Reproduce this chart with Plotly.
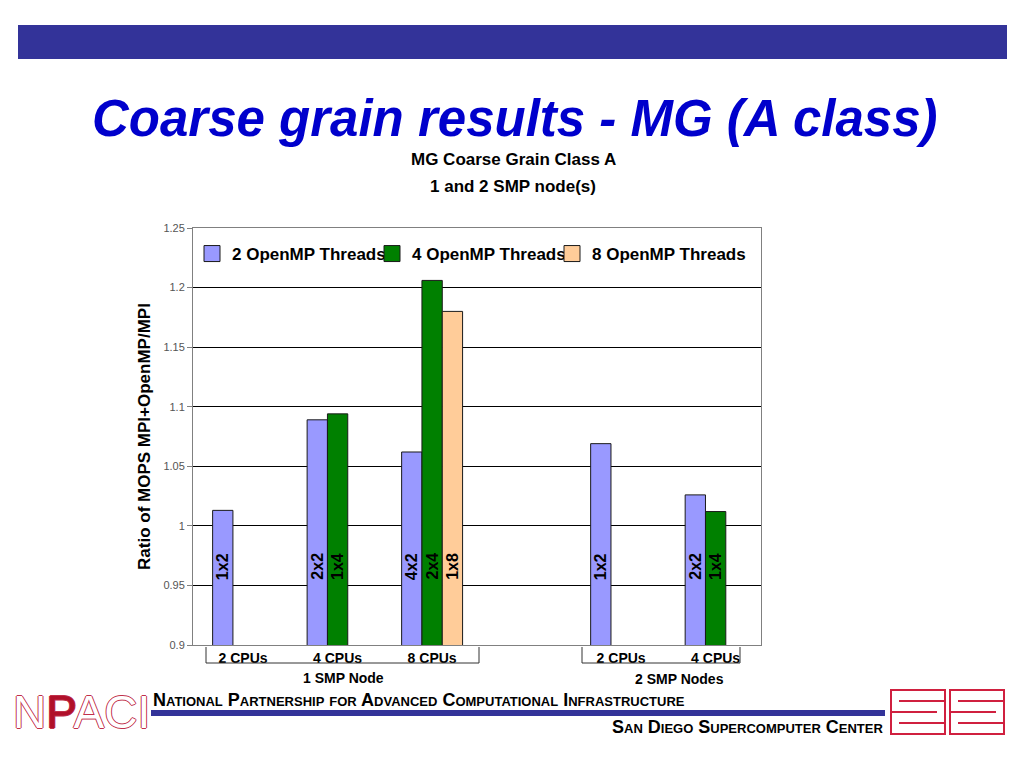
import plotly.graph_objects as go

# ---------------- data ----------------
slots = ["1 node / 2 CPUs", "1 node / 4 CPUs", "1 node / 8 CPUs", None,
         "2 nodes / 2 CPUs", "2 nodes / 4 CPUs"]
tick_labels = ["2 CPUs", "4 CPUs", "8 CPUs", "", "2 CPUs", "4 CPUs"]
group_labels = ["1 SMP Node", "2 SMP Nodes"]

series_names = ["2 OpenMP Threads", "4 OpenMP Threads", "8 OpenMP Threads"]
thr2_slots = ["1 node / 2 CPUs", "1 node / 4 CPUs", "1 node / 8 CPUs",
              "2 nodes / 2 CPUs", "2 nodes / 4 CPUs"]
thr2_vals = [1.013, 1.089, 1.062, 1.069, 1.026]
thr2_cfg = ["1x2", "2x2", "4x2", "1x2", "2x2"]

thr4_slots = ["1 node / 4 CPUs", "1 node / 8 CPUs", "2 nodes / 4 CPUs"]
thr4_vals = [1.094, 1.206, 1.012]
thr4_cfg = ["1x4", "2x4", "1x4"]

thr8_slots = ["1 node / 8 CPUs"]
thr8_vals = [1.180]
thr8_cfg = ["1x8"]

y_ticks = [0.9, 0.95, 1.0, 1.05, 1.1, 1.15, 1.2, 1.25]

# ---------------- layout constants (screen pixels) ----------------
FONT = "Liberation Sans, Arial, sans-serif"
OFF = 8                      # page body margin
L, R, T, B = 193, 761, 228, 645
PW, PH = R - L, B - T
BARGAP = 0.355
colors = ["#9999FF", "#008000", "#FFCC99"]
legend_ids = ["legend", "legend2", "legend3"]
legend_px = [192, 372, 552]


def fx(px):
    return (px - L) / PW


def fy(py):
    return (B - py) / PH


def pos(keys):
    return [slots.index(k) for k in keys]


fig = go.Figure()
all_series = [(thr2_slots, thr2_vals, thr2_cfg),
              (thr4_slots, thr4_vals, thr4_cfg),
              (thr8_slots, thr8_vals, thr8_cfg)]
for i, (ks, vs, cfg) in enumerate(all_series):
    fig.add_trace(go.Bar(
        x=pos(ks), y=vs, name=series_names[i], legendgroup=series_names[i],
        showlegend=False,
        marker=dict(color=colors[i], line=dict(color="#1a1a1a", width=1)),
    ))
# legend entries with larger swatches
for i in range(3):
    fig.add_trace(go.Scatter(
        x=[None], y=[None], mode="markers", name=series_names[i],
        legendgroup=series_names[i], legend=legend_ids[i],
        marker=dict(symbol="square", size=16, color=colors[i],
                    line=dict(color="#1a1a1a", width=1))))


def ann(x, y, text, size, color="black", xanchor="center", **kw):
    return dict(x=fx(x), y=fy(y), xref="paper", yref="paper", text=text,
                showarrow=False, xanchor=xanchor, yanchor="middle",
                font=dict(family=kw.pop("family", FONT), size=size, color=color, **kw))


# configuration labels inside bars
w = (1 - BARGAP) / 3
annotations = []
for i, (ks, vs, cfg) in enumerate(all_series):
    for xp, lab in zip(pos(ks), cfg):
        annotations.append(dict(
            x=xp + (i - 1) * w, y=0.966, xref="x", yref="y", text=f"<b>{lab}</b>",
            showarrow=False, textangle=-90,
            font=dict(family=FONT, size=16, color="black"),
            xanchor="center", yanchor="middle"))

# group labels under the axis
annotations.append(ann(343, 678, f"<b>{group_labels[0]}</b>", 14))
annotations.append(ann(679, 679, f"<b>{group_labels[1]}</b>", 14))

# slide title and chart title
annotations.append(ann(515, 118, "<b><i>Coarse grain results - MG (A class)</i></b>",
                       51, color="#0000CC"))
annotations.append(ann(513, 160, "<b>MG Coarse Grain Class A</b>", 17))
annotations.append(ann(513, 186, "<b>1 and 2 SMP node(s)</b>", 17))

# footer texts
annotations.append(ann(151, 700,
                       "<b>National Partnership for Advanced Computational Infrastructure</b>",
                       18, xanchor="left", variant="small-caps"))
annotations.append(ann(885, 727, "<b>San Diego Supercomputer Center</b>",
                       18, xanchor="right", variant="small-caps"))
# NPACI logo
annotations.append(ann(81, 712, "N<span style='color:#B0102A'>P</span>ACI", 46,
                       color="white",
                       shadow="1px 0 0 #C0304A, -1px 0 0 #C0304A, 0 1px 0 #C0304A, 0 -1px 0 #C0304A"))

shapes = []
# top banner
shapes.append(dict(type="rect", xref="paper", yref="paper",
                   x0=fx(18), x1=fx(1007), y0=fy(59), y1=fy(25),
                   fillcolor="#333399", line=dict(width=0), layer="below"))
# footer rule
shapes.append(dict(type="rect", xref="paper", yref="paper",
                   x0=fx(151), x1=fx(885), y0=fy(716), y1=fy(710),
                   fillcolor="#333399", line=dict(width=0)))
# category brackets
for (a, b) in [(206, 479), (582, 740)]:
    shapes.append(dict(type="path", xref="paper", yref="paper",
                       path=f"M {fx(a)},{fy(647)} L {fx(a)},{fy(663)} L {fx(b)},{fy(663)} L {fx(b)},{fy(647)}",
                       line=dict(color="#333333", width=1)))
# SDSC logo (approximate maze blocks)
red = "#D0203F"
for ox in (891, 950):
    shapes.append(dict(type="rect", xref="paper", yref="paper",
                       x0=fx(ox), x1=fx(ox + 54), y0=fy(734), y1=fy(690),
                       line=dict(color=red, width=2)))
    for k in range(1, 4):
        yy = 690 + k * 11
        if k % 2:
            x0, x1 = ox + 8, ox + 54
        else:
            x0, x1 = ox, ox + 46
        shapes.append(dict(type="line", xref="paper", yref="paper",
                           x0=fx(x0), x1=fx(x1), y0=fy(yy), y1=fy(yy),
                           line=dict(color=red, width=2)))

legend_style = dict(orientation="h", xanchor="left", yanchor="top",
                    font=dict(family=FONT, size=17, color="black", weight="bold"),
                    bgcolor="rgba(0,0,0,0)", itemwidth=30, itemsizing="trace")
legends = {lid: dict(legend_style, x=fx(px), y=fy(236))
           for lid, px in zip(legend_ids, legend_px)}

fig.update_layout(
    width=1024 - OFF, height=768 - OFF, autosize=False,
    margin=dict(l=L - OFF, r=1024 - R, t=T - OFF, b=768 - B, pad=0),
    paper_bgcolor="white", plot_bgcolor="white",
    barmode="group", bargap=BARGAP, bargroupgap=0,
    font=dict(family=FONT, color="black"),
    showlegend=True,
    annotations=annotations,
    shapes=shapes,
    **legends,
)
fig.update_xaxes(range=[-0.53, 5.48], tickmode="array",
                 tickvals=list(range(len(slots))), ticktext=[f"<b>{t}</b>" for t in tick_labels],
                 tickfont=dict(family=FONT, size=14, color="black"),
                 showgrid=False, zeroline=False, showline=True, linecolor="#808080",
                 linewidth=1, mirror=True, ticks="")
fig.update_yaxes(range=[0.9, 1.25], tickmode="array", tickvals=y_ticks,
                 ticktext=[f"{v:g}" for v in y_ticks],
                 tickfont=dict(family=FONT, size=11, color="#555555"),
                 showgrid=True, gridcolor="black", gridwidth=1, zeroline=False,
                 showline=True, linecolor="#808080", mirror=True,
                 ticks="outside", ticklen=5, tickcolor="#808080",
                 title=dict(text="<b>Ratio of MOPS MPI+OpenMP/MPI</b>",
                            font=dict(family=FONT, size=17, color="black"),
                            standoff=8))

fig.write_html("out.html")
